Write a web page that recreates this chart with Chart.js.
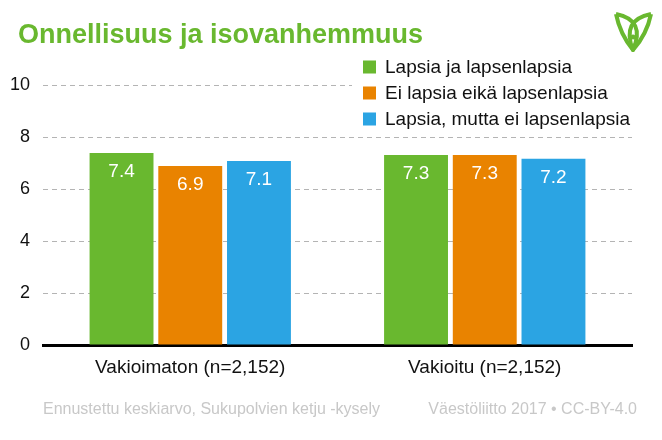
<!DOCTYPE html>
<html>
<head>
<meta charset="utf-8">
<style>
  html, body { margin: 0; padding: 0; background: #fff; }
  #wrap { width: 662px; height: 440px; }
</style>
<script src="https://cdn.jsdelivr.net/npm/chart.js@4.4.1/dist/chart.umd.min.js"></script>
</head>
<body>
<div id="wrap"><canvas id="chart" width="662" height="440"></canvas></div>
<script>
(function () {
    'use strict';

    // Data.
    var categories   = ['Vakioimaton (n=2,152)', 'Vakioitu (n=2,152)'];
    var seriesNames  = ['Lapsia ja lapsenlapsia', 'Ei lapsia eikä lapsenlapsia', 'Lapsia, mutta ei lapsenlapsia'];
    var grandkids    = [7.38, 7.31];
    var noKids       = [6.88, 7.31];
    var kidsOnly     = [7.08, 7.16];
    var yTicks       = [0, 2, 4, 6, 8, 10];

    var TITLE     = 'Onnellisuus ja isovanhemmuus';
    var NOTE_LEFT = 'Ennustettu keskiarvo, Sukupolvien ketju -kysely';
    var NOTE_RIGHT = 'Väestöliitto 2017 • CC-BY-4.0';

    var GREEN  = '#69b82f';
    var ORANGE = '#e98300';
    var BLUE   = '#2ba4e3';
    var FONT   = '"Liberation Sans", Arial, sans-serif';

    // Titles, legend, value labels, footnotes and logo.
    var decorations = {
        id: 'decorations',
        afterDatasetsDraw: function (chart) {
            var ctx = chart.ctx;
            ctx.save();

            // Value labels inside bars.
            ctx.fillStyle = '#fff';
            ctx.font = '19px ' + FONT;
            ctx.textAlign = 'center';
            ctx.textBaseline = 'middle';
            chart.data.datasets.forEach(function (ds, i) {
                chart.getDatasetMeta(i).data.forEach(function (bar, j) {
                    ctx.fillText(ds.data[j].toFixed(1), bar.x, bar.y + 19);
                });
            });
            ctx.restore();
        },
        afterDraw: function (chart) {
            var ctx = chart.ctx;
            ctx.save();

            // Title.
            ctx.fillStyle = GREEN;
            ctx.font = 'bold 27px ' + FONT;
            ctx.textAlign = 'left';
            ctx.textBaseline = 'alphabetic';
            ctx.fillText(TITLE, 18, 43);

            // Legend with white backing over the gridline.
            ctx.fillStyle = '#fff';
            ctx.fillRect(352, 54, 290, 78);
            ctx.font = '19px ' + FONT;
            ctx.textBaseline = 'middle';
            chart.data.datasets.forEach(function (ds, i) {
                var y = 67 + i * 26;
                ctx.fillStyle = ds.backgroundColor;
                ctx.fillRect(363, y - 6.5, 13, 13);
                ctx.fillStyle = '#111';
                ctx.fillText(ds.label, 385, y + 1);
            });

            // Footnotes.
            ctx.fillStyle = '#c8c8c8';
            ctx.font = '16px ' + FONT;
            ctx.textBaseline = 'alphabetic';
            ctx.textAlign = 'left';
            ctx.fillText(NOTE_LEFT, 43, 414);
            ctx.textAlign = 'right';
            ctx.fillText(NOTE_RIGHT, 637, 414);

            // Logo (outlined leaf-V with a dot).
            ctx.strokeStyle = GREEN;
            ctx.fillStyle = GREEN;
            ctx.lineWidth = 4;
            ctx.lineJoin = 'round';
            ctx.beginPath();
            ctx.moveTo(616, 14);
            ctx.quadraticCurveTo(646, 20, 633, 50);
            ctx.quadraticCurveTo(620, 34, 616, 14);
            ctx.stroke();
            ctx.beginPath();
            ctx.moveTo(651, 14);
            ctx.quadraticCurveTo(621, 20, 633, 50);
            ctx.quadraticCurveTo(647, 34, 651, 14);
            ctx.stroke();
            ctx.beginPath();
            ctx.arc(633, 37, 2.5, 0, Math.PI * 2);
            ctx.fill();

            ctx.restore();
        }
    };

    var ctx = document.getElementById('chart').getContext('2d');
    new Chart(ctx, {
        type: 'bar',
        data: {
            labels: categories,
            datasets: [
                { label: seriesNames[0], data: grandkids, backgroundColor: GREEN },
                { label: seriesNames[1], data: noKids,    backgroundColor: ORANGE },
                { label: seriesNames[2], data: kidsOnly,  backgroundColor: BLUE }
            ]
        },
        options: {
            responsive: false,
            animation: false,
            categoryPercentage: 0.7,
            barPercentage: 0.93,
            layout: { padding: { top: 85, right: 30, left: 0, bottom: 0 } },
            plugins: {
                legend: { display: false },
                tooltip: { enabled: false }
            },
            scales: {
                x: {
                    grid: { display: false },
                    border: { display: true, color: '#000', width: 3 },
                    ticks: {
                        color: '#111',
                        font: { family: FONT, size: 19 },
                        padding: 3
                    },
                    afterFit: function (scale) { scale.height = 95; }
                },
                y: {
                    min: 0,
                    max: 10,
                    afterBuildTicks: function (scale) {
                        scale.ticks = yTicks.map(function (v) { return { value: v }; });
                    },
                    grid: { color: '#b4b4b4', lineWidth: 1, drawTicks: false },
                    border: { display: false, dash: [5, 4] },
                    ticks: {
                        color: '#111',
                        font: { family: FONT, size: 18 },
                        padding: 13
                    },
                    afterFit: function (scale) { scale.width = 43; }
                }
            }
        },
        plugins: [decorations]
    });
}());
</script>
</body>
</html>
